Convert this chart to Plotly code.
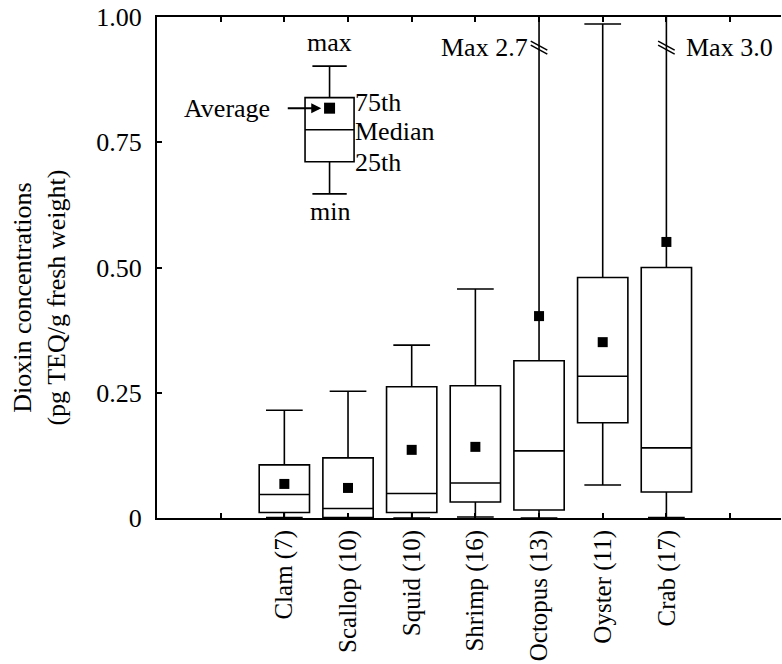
import plotly.graph_objects as go

categories = ["Clam (7)", "Scallop (10)", "Squid (10)", "Shrimp (16)", "Octopus (13)", "Oyster (11)", "Crab (17)"]
positions = [2, 3, 4, 5, 6, 7, 8]
maxima = [0.215, 0.253, 0.345, 0.457, 2.7, 0.986, 3.0]
q3 = [0.106, 0.120, 0.262, 0.264, 0.314, 0.480, 0.500]
medians = [0.047, 0.019, 0.049, 0.070, 0.134, 0.283, 0.140]
q1 = [0.011, 0.001, 0.011, 0.032, 0.016, 0.190, 0.052]
minima = [0.001, 0.0, 0.0, 0.002, 0.0, 0.066, 0.001]
means = [0.068, 0.060, 0.136, 0.142, 0.403, 0.351, 0.551]

# legend illustration values
leg_pos = 2.71
leg_vals = dict(max=0.902, q3=0.839, med=0.775, q1=0.711, min=0.647, mean=0.818)

FONT = "Liberation Serif"
FS = 26
LINE = dict(color="black", width=1.6)

fig = go.Figure()
fig.add_trace(go.Box(
    x=positions, q1=q1, median=medians, q3=q3,
    lowerfence=minima, upperfence=maxima,
    width=0.79, whiskerwidth=0.73,
    fillcolor="white", line=LINE, boxpoints=False, showlegend=False,
    hoverinfo="skip",
))
fig.add_trace(go.Scatter(
    x=positions, y=means, mode="markers",
    marker=dict(symbol="square", size=10, color="black"),
    showlegend=False, hoverinfo="skip",
))
# legend illustration
fig.add_trace(go.Box(
    x=[leg_pos], q1=[leg_vals["q1"]], median=[leg_vals["med"]], q3=[leg_vals["q3"]],
    lowerfence=[leg_vals["min"]], upperfence=[leg_vals["max"]],
    width=0.77, whiskerwidth=0.70,
    fillcolor="white", line=LINE, boxpoints=False, showlegend=False,
    hoverinfo="skip",
))
fig.add_trace(go.Scatter(
    x=[leg_pos], y=[leg_vals["mean"]], mode="markers",
    marker=dict(symbol="square", size=11, color="black"),
    showlegend=False, hoverinfo="skip",
))

# break marks on whiskers exceeding the axis
for p in [6, 8]:
    for dy in (-0.004, 0.004):
        fig.add_shape(type="line", xref="x", yref="y",
                      x0=p - 0.13, x1=p + 0.13, y0=0.948 + dy, y1=0.930 + dy,
                      line=dict(color="black", width=1.5))

def txt(x, y, s, xanchor="center", xref="x", yref="y", **kw):
    fig.add_annotation(x=x, y=y, text=s, showarrow=False, xanchor=xanchor, yanchor="middle",
                       xref=xref, yref=yref, font=dict(family=FONT, size=FS, color="black"), **kw)

txt(5.86, 0.94, "Max 2.7", xanchor="right")
txt(8.28, 0.94, "Max 3.0", xanchor="left")
txt(leg_pos, 0.95, "max")
txt(leg_pos, 0.612, "min")
txt(3.08, 0.83, "75th", xanchor="left")
txt(3.08, 0.772, "Median", xanchor="left")
txt(3.08, 0.71, "25th", xanchor="left")
txt(1.8, 0.818, "Average", xanchor="right")
fig.add_annotation(x=2.58, y=0.818, ax=2.03, ay=0.818, axref="x", ayref="y",
                   xref="x", yref="y", text="", showarrow=True,
                   arrowhead=2, arrowsize=1, arrowwidth=2, arrowcolor="black")
fig.add_annotation(x=-0.1875, y=0.44, xref="paper", yref="paper",
                   xanchor="center", yanchor="middle",
                   text="Dioxin concentrations<br>(pg TEQ/g fresh weight)",
                   textangle=-90, showarrow=False,
                   font=dict(family=FONT, size=FS, color="black"))

fig.update_xaxes(
    range=[0, 9.8], tickmode="array",
    tickvals=[1, 2, 3, 4, 5, 6, 7, 8, 9],
    ticktext=[""] + categories + [""],
    tickangle=-90, ticks="inside", ticklen=5, tickwidth=1.5, tickcolor="black",
    showline=True, linecolor="black", linewidth=2, mirror="ticks",
    showgrid=False, zeroline=False, automargin=False, ticklabeloverflow="allow",
    tickfont=dict(family=FONT, size=25, color="black"),
)
fig.update_yaxes(
    range=[0, 1], tickmode="array",
    tickvals=[0, 0.25, 0.5, 0.75, 1.0], ticktext=["0", "0.25", "0.50", "0.75", "1.00"],
    ticks="inside", ticklen=5, tickwidth=1.5, tickcolor="black",
    showline=True, linecolor="black", linewidth=2,
    showgrid=False, zeroline=False, ticklabelstandoff=8, automargin=False,
    ticklabeloverflow="allow",
    tickfont=dict(family=FONT, size=FS, color="black"),
)
fig.update_layout(
    width=782, height=664,
    margin=dict(l=157, r=1, t=17, b=146),
    plot_bgcolor="white", paper_bgcolor="white",
    showlegend=False,
)
# remove the browser's default 8px body margin so the figure sits at the page origin
fig.write_html("out.html", config={"displayModeBar": False},
               post_script="document.body.style.margin='0';document.body.style.overflow='hidden';")
